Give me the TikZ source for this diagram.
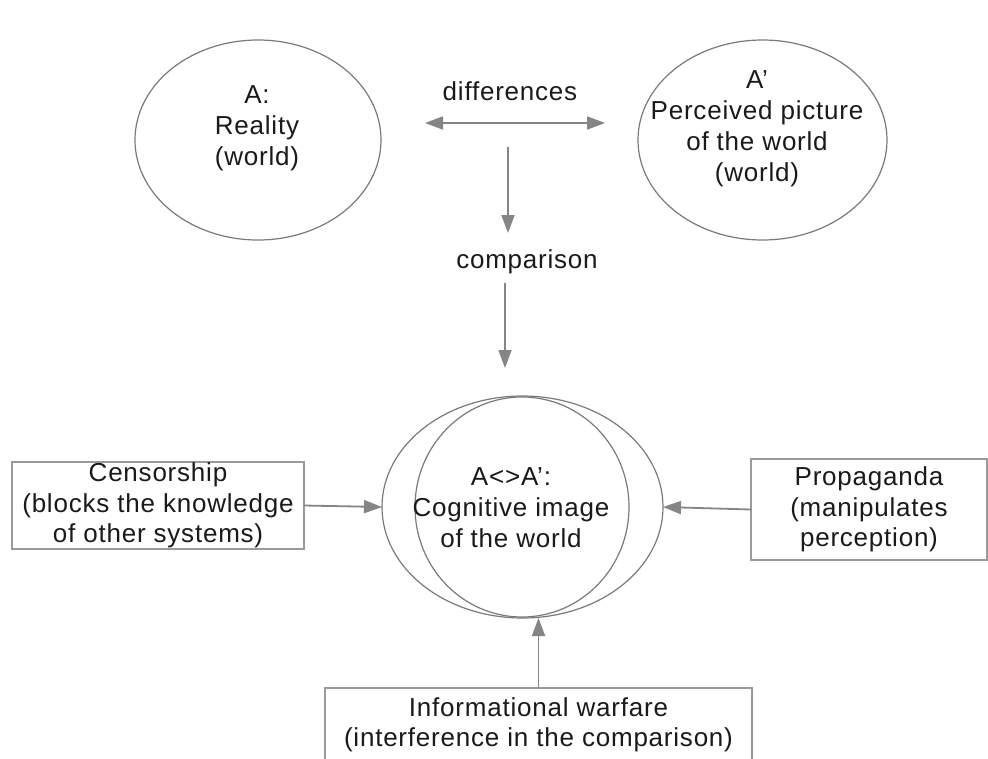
\documentclass[tikz,border=0pt]{standalone}
\usepackage{fontspec}
\setmainfont{Liberation Sans}[LetterSpace=3]
\usetikzlibrary{shapes.geometric,arrows.meta}
\definecolor{txt}{HTML}{1A1A1A}
\definecolor{ellc}{HTML}{7A7A7A}
\definecolor{boxc}{HTML}{9A9A9A}
\definecolor{arrc}{HTML}{858585}
\begin{document}
\begin{tikzpicture}[x=1pt,y=-1pt,
  lbl/.style={font=\fontsize{26}{31}\selectfont, text=txt, align=center, inner sep=0pt},
  ell/.style={draw=ellc, line width=1.2pt, ellipse, inner sep=0pt, outer sep=0pt},
  box/.style={draw=boxc, line width=1.6pt, rectangle, inner sep=0pt, outer sep=0pt,
              font=\fontsize{26}{30.5}\selectfont, text=txt, align=center},
  arr/.style={draw=arrc, line width=1.8pt, -{Triangle[length=18pt,width=13pt]}},
  darr/.style={draw=arrc, line width=1.8pt, {Triangle[length=18pt,width=13pt]}-{Triangle[length=18pt,width=13pt]}}]
\useasboundingbox (0,0) rectangle (988,758);
\fill[white] (0,0) rectangle (988,758);

% ellipses
\node[ell, minimum width=246pt, minimum height=200pt] (A) at (258,140) {};
\node[ell, minimum width=249pt, minimum height=200pt] (Ap) at (762.5,140) {};
\node[ell, minimum width=281pt, minimum height=222pt] (outer) at (522.5,507) {};
\node[ell, minimum width=214pt, minimum height=220pt] (inner) at (522,507) {};

% texts
\node[lbl] (Atxt) at (257,128) {A:\\Reality\\(world)};
\node[lbl] (Aptxt) at (757,129) {A’\\Perceived picture\\of the world\\(world)};
\node[lbl] (Ctxt) at (511,508) {A<>A’:\\Cognitive image\\of the world};
\node[lbl] (diff) at (510,91.5) {differences};
\node[lbl] (comp) at (527,262) {comparison};

% free arrows
\coordinate (dl) at (425,123);
\coordinate (dr) at (605,123);
\coordinate (d1s) at (508,147);
\coordinate (d1e) at (508,233);
\coordinate (d2s) at (505,283);
\coordinate (d2e) at (505,368);
\draw[darr] (dl) -- (dr);
\draw[arr] (d1s) -- (d1e);
\draw[arr] (d2s) -- (d2e);

% boxes
\node[box, minimum width=292pt, minimum height=87pt] (cens) at (158,505.5)
  {Censorship\\(blocks the knowledge\\of other systems)};
\node[box, minimum width=236pt, minimum height=101pt] (prop) at (869,509.5)
  {Propaganda\\(manipulates\\perception)};
\node[box, minimum width=427pt, minimum height=74pt] (info) at (538.5,725)
  {Informational warfare\\(interference in the comparison)};

% connectors
\draw[arr] (cens.east) -- (outer.west);
\draw[arr] (prop.west) -- (outer.east);
\draw[arr] (info.north) -- (info.north |- outer.south);
\end{tikzpicture}
\end{document}
